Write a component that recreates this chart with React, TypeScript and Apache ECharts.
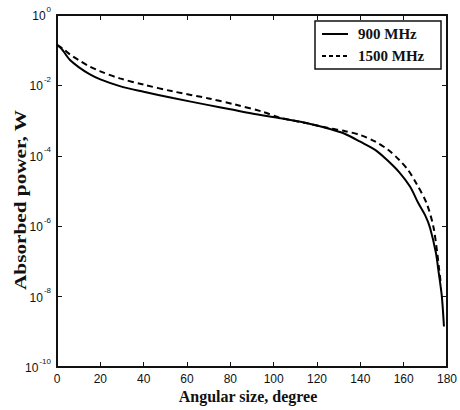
import React, { useEffect, useRef } from "react";
import * as echarts from "echarts";

const xTicks = [0, 20, 40, 60, 80, 100, 120, 140, 160, 180];
const seriesNames = ["900 MHz", "1500 MHz"];

const deg900 = [0, 2, 4, 6, 10, 15, 20, 29, 40, 53.5, 70, 80, 90, 103, 115, 126, 133, 140, 147, 152, 158, 163, 166.8, 170, 172.2, 174.9, 176, 177.6, 178.6];
const pow900 = [0.141, 0.112, 0.0759, 0.0525, 0.0331, 0.0209, 0.0148, 0.00955, 0.00661, 0.00437, 0.00275, 0.00209, 0.00158, 0.00117, 8.51e-4, 5.75e-4, 4.17e-4, 2.51e-4, 1.45e-4, 7.94e-5, 3.39e-5, 1.32e-5, 4.47e-6, 2.0e-6, 8.91e-7, 1.74e-7, 5.75e-8, 1.05e-8, 1.41e-9];

const deg1500 = [0, 3, 6, 10, 15, 20, 29, 40, 53.5, 70, 82, 95, 103, 115, 126, 133, 140, 147, 152.8, 158, 162, 166, 170.6, 173.7, 175.5, 176.4, 177.1];
const pow1500 = [0.141, 0.107, 0.0759, 0.0525, 0.0347, 0.0251, 0.0158, 0.0105, 0.00676, 0.00427, 0.00288, 0.00178, 0.0012, 8.51e-4, 6.03e-4, 5.01e-4, 3.89e-4, 2.51e-4, 1.48e-4, 7.59e-5, 3.98e-5, 1.58e-5, 4.47e-6, 9.77e-7, 1.74e-7, 5.75e-8, 2.51e-8];

const AX = "#111";

export default function App() {
  const ref = useRef<HTMLDivElement>(null);
  useEffect(() => {
    if (!ref.current) return;
    const chart = echarts.init(ref.current, null, { renderer: "svg" });
    const baseX = {
      type: "value" as const,
      min: 0,
      max: 180,
      interval: 20,
      axisLine: { show: true, onZero: false, lineStyle: { color: AX, width: 2 } },
      axisTick: { show: true, inside: true, length: 5, lineStyle: { color: AX, width: 1 } },
      splitLine: { show: false },
    };
    const baseY = {
      type: "log" as const,
      logBase: 10,
      min: 1e-10,
      max: 1,
      interval: 2,
      splitNumber: 5,
      axisLine: { show: true, onZero: false, lineStyle: { color: AX, width: 2 } },
      axisTick: { show: true, inside: true, length: 5, lineStyle: { color: AX, width: 1 } },
      splitLine: { show: false },
      minorTick: { show: false },
    };
    chart.setOption({
      animation: false,
      backgroundColor: "#fff",
      grid: { left: 57, right: 13, top: 15, bottom: 43, containLabel: false },
      xAxis: [
        {
          ...baseX,
          position: "bottom",
          axisLabel: {
            show: true,
            margin: 6,
            fontFamily: "Liberation Sans, Arial, sans-serif",
            fontSize: 12,
            color: "#111",
            formatter: (v: number) => (xTicks.includes(v) ? String(v) : ""),
          },
        },
        { ...baseX, position: "top", axisLabel: { show: false } },
      ],
      yAxis: [
        {
          ...baseY,
          position: "left",
          axisLabel: {
            show: true,
            margin: 6,
            color: "#111",
            formatter: (v: number) => {
              const e = Math.round(Math.log10(v));
              return `{b|10}{s|${e}}`;
            },
            rich: {
              b: { fontFamily: "Liberation Sans, Arial, sans-serif", fontSize: 12, color: "#111", lineHeight: 14, verticalAlign: "bottom" },
              s: { fontFamily: "Liberation Sans, Arial, sans-serif", fontSize: 8, color: "#111", lineHeight: 8, padding: [0, 0, 9, 1], verticalAlign: "bottom" },
            },
          },
        },
        { ...baseY, position: "right", axisLabel: { show: false } },
      ],
      series: [
        {
          name: seriesNames[0],
          type: "line",
          xAxisIndex: 0,
          yAxisIndex: 0,
          data: deg900.map((d, i) => [d, pow900[i]]),
          showSymbol: false,
          smooth: 0.3,
          lineStyle: { color: "#000", width: 2, type: "solid" },
        },
        {
          name: seriesNames[1],
          type: "line",
          xAxisIndex: 0,
          yAxisIndex: 0,
          data: deg1500.map((d, i) => [d, pow1500[i]]),
          showSymbol: false,
          smooth: 0.3,
          lineStyle: { color: "#000", width: 2, type: [6, 4] },
        },
      ],
      graphic: [
        {
          type: "text",
          x: 248,
          y: 396,
          style: {
            text: "Angular size, degree",
            fontFamily: "Liberation Serif, Times New Roman, serif",
            fontWeight: "bold",
            fontSize: 16,
            fill: "#111",
            align: "center",
            verticalAlign: "middle",
          },
        },
        {
          type: "text",
          x: 20,
          y: 200,
          rotation: Math.PI / 2,
          scaleX: 1.25,
          style: {
            text: "Absorbed power, W",
            fontFamily: "Liberation Serif, Times New Roman, serif",
            fontWeight: "bold",
            fontSize: 17,
            fill: "#111",
            align: "center",
            verticalAlign: "middle",
          },
        },
        {
          type: "rect",
          shape: { x: 315, y: 21, width: 126, height: 48 },
          style: { fill: "#fff", stroke: "#111", lineWidth: 1.5 },
          z: 10,
        },
        {
          type: "line",
          shape: { x1: 322, y1: 34, x2: 348, y2: 34 },
          style: { stroke: "#000", lineWidth: 2 },
          z: 11,
        },
        {
          type: "line",
          shape: { x1: 322, y1: 56, x2: 348, y2: 56 },
          style: { stroke: "#000", lineWidth: 2, lineDash: [4, 3] },
          z: 11,
        },
        {
          type: "text",
          x: 358,
          y: 34,
          z: 11,
          style: {
            text: seriesNames[0],
            fontFamily: "Liberation Serif, Times New Roman, serif",
            fontWeight: "bold",
            fontSize: 15,
            fill: "#111",
            align: "left",
            verticalAlign: "middle",
          },
        },
        {
          type: "text",
          x: 358,
          y: 56,
          z: 11,
          style: {
            text: seriesNames[1],
            fontFamily: "Liberation Serif, Times New Roman, serif",
            fontWeight: "bold",
            fontSize: 15,
            fill: "#111",
            align: "left",
            verticalAlign: "middle",
          },
        },
      ],
    });
    return () => chart.dispose();
  }, []);
  return (
    <div
      ref={ref}
      style={{ position: "fixed", left: 0, top: 0, width: 460, height: 410, background: "#fff" }}
    />
  );
}
